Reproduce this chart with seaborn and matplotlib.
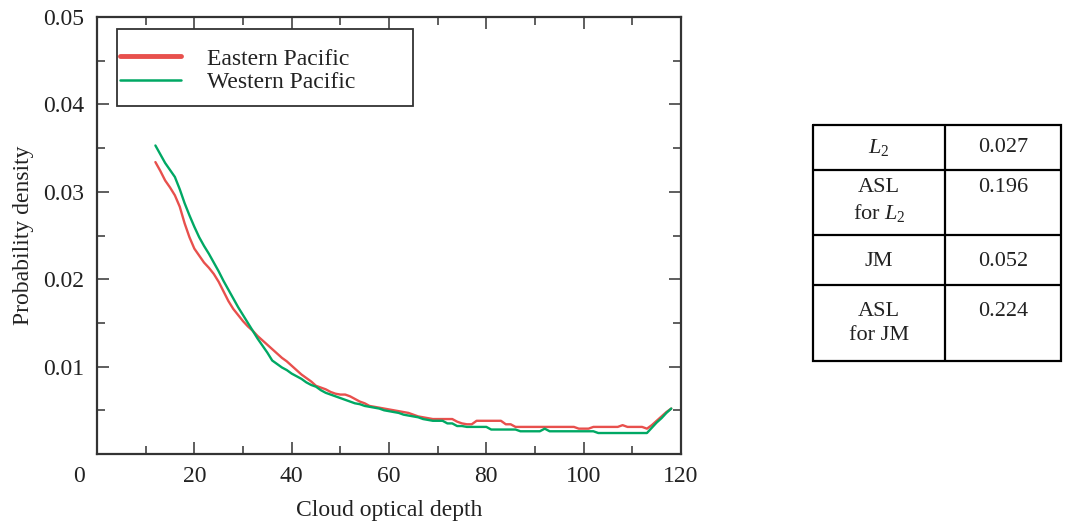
"""
Cloud optical depth PDF, Eastern vs Western Pacific, plus a small stats table.
"""

import matplotlib
matplotlib.use("Agg")
import numpy as np
import pandas as pd
import matplotlib.pyplot as plt
import matplotlib.transforms as mtransforms
from matplotlib.patches import Rectangle
from matplotlib.ticker import MultipleLocator
import seaborn as sns

# cloud optical depth, one sample per unit
DEPTH = list(range(12, 119))

# probability density (x = 12 ... 118)
EASTERN = [
    .0334, .0324, .0313, .0305, .0296, .0283, .0264, .0248, .0235, .0227,
    .0219, .0213, .0206, .0197, .0186, .0175, .0166, .0159, .0152, .0146,
    .0141, .0135, .0130, .0125, .0120, .0115, .0110, .0106, .0101, .0096,
    .0091, .0087, .0083, .0078, .0076, .0074, .0071, .0069, .0068, .0068,
    .0066, .0063, .0060, .0058, .0055, .0054, .0053, .0052, .0051, .0050,
    .0049, .0048, .0047, .0045, .0043, .0042, .0041, .0040, .0040, .0040,
    .0040, .0040, .0037, .0035, .0034, .0034, .0038, .0038, .0038, .0038,
    .0038, .0038, .0034, .0034, .0031, .0031, .0031, .0031, .0031, .0031,
    .0031, .0031, .0031, .0031, .0031, .0031, .0031, .0029, .0029, .0029,
    .0031, .0031, .0031, .0031, .0031, .0031, .0033, .0031, .0031, .0031,
    .0031, .0029, .0033, .0038, .0043, .0048, .0052,
]
WESTERN = [
    .0353, .0343, .0333, .0325, .0317, .0303, .0287, .0273, .0260, .0248,
    .0238, .0229, .0219, .0209, .0198, .0188, .0178, .0168, .0159, .0150,
    .0141, .0132, .0124, .0116, .0107, .0103, .0099, .0096, .0092, .0089,
    .0086, .0082, .0079, .0077, .0073, .0070, .0068, .0066, .0064, .0062,
    .0060, .0058, .0057, .0055, .0054, .0053, .0052, .0050, .0049, .0048,
    .0047, .0045, .0044, .0043, .0042, .0040, .0039, .0038, .0038, .0038,
    .0035, .0035, .0032, .0032, .0031, .0031, .0031, .0031, .0031, .0028,
    .0028, .0028, .0028, .0028, .0028, .0026, .0026, .0026, .0026, .0026,
    .0029, .0026, .0026, .0026, .0026, .0026, .0026, .0026, .0026, .0026,
    .0026, .0024, .0024, .0024, .0024, .0024, .0024, .0024, .0024, .0024,
    .0024, .0024, .0030, .0036, .0041, .0047, .0052,
]

SERIES = ["Eastern Pacific", "Western Pacific"]
COLORS = ["#E8504D", "#00A864"]

X_TICKS = [0, 20, 40, 60, 80, 100, 120]
X_TICKLABELS = ["0", "20", "40", "60", "80", "100", "120"]
Y_TICKS = [0, 0.01, 0.02, 0.03, 0.04, 0.05]
Y_TICKLABELS = ["", "0.01", "0.02", "0.03", "0.04", "0.05"]

TABLE_NAMES = ["$L_2$", "ASL\nfor $L_2$", "JM", "ASL\nfor JM"]
TABLE_VALUES = ["0.027", "0.196", "0.052", "0.224"]

W, H = 1066, 523
AX_L, AX_T, AX_W, AX_H = 97, 17, 584, 437   # axes box in pixels
FS = 17
INK = "#333333"


def draw_table(fig):
    # table box in figure pixels: x 813..1061, y 125..361
    tx = fig.add_axes([813 / W, 1 - 361 / H, 248 / W, 236 / H])
    tx.set_xlim(0, 248)
    tx.set_ylim(236, 0)
    tx.axis("off")

    row_edges = [0, 45, 110, 160, 236]
    first_line_y = [23, 63, 136, 186]
    col_split = 132
    line_gap = 25

    lw = 1.6
    tx.plot([0, 248, 248, 0, 0], [0, 0, 236, 236, 0], color="black", lw=lw,
            clip_on=False, solid_joinstyle="miter")
    tx.plot([col_split, col_split], [0, 236], color="black", lw=lw)
    for y in row_edges[1:-1]:
        tx.plot([0, 248], [y, y], color="black", lw=lw)

    for name, val, y0 in zip(TABLE_NAMES, TABLE_VALUES, first_line_y):
        for k, line in enumerate(name.split("\n")):
            tx.text(col_split / 2, y0 + k * line_gap, line, ha="center",
                    va="center", fontsize=16, color="#222222")
        tx.text((col_split + 248) / 2, y0, val, ha="center", va="center",
                fontsize=16, color="#222222")


def main():
    sns.set_style("ticks")
    plt.rcParams["font.family"] = ["Liberation Serif", "DejaVu Serif"]
    plt.rcParams["mathtext.fontset"] = "custom"
    plt.rcParams["mathtext.rm"] = "Liberation Serif"
    plt.rcParams["mathtext.it"] = "Liberation Serif:italic"

    df = pd.DataFrame({
        "depth": DEPTH * 2,
        "density": EASTERN + WESTERN,
        "region": [SERIES[0]] * len(DEPTH) + [SERIES[1]] * len(DEPTH),
    })

    fig = plt.figure(figsize=(W / 100, H / 100), dpi=100)
    ax = fig.add_axes([AX_L / W, 1 - (AX_T + AX_H) / H, AX_W / W, AX_H / H])

    sns.lineplot(data=df, x="depth", y="density", hue="region",
                 hue_order=SERIES, palette=COLORS, linewidth=1.7, ax=ax)

    ax.set_xlim(0, 120)
    ax.set_ylim(0, 0.05)
    ax.set_xticks(X_TICKS)
    ax.set_xticklabels(X_TICKLABELS)
    ax.set_yticks(Y_TICKS)
    ax.set_yticklabels(Y_TICKLABELS)
    ax.xaxis.set_minor_locator(MultipleLocator(10))
    ax.yaxis.set_minor_locator(MultipleLocator(0.005))

    ax.tick_params(which="both", direction="in", top=True, right=True,
                   color=INK, width=1.1, labelsize=FS, labelcolor="#222222")
    ax.tick_params(which="major", length=8.5, pad=9)
    ax.tick_params(which="minor", length=5.5)
    for sp in ax.spines.values():
        sp.set_linewidth(1.6)
        sp.set_color(INK)

    # the "0" at the origin sits a bit to the left of the axis corner
    lbl0 = ax.get_xticklabels()[0]
    lbl0.set_transform(lbl0.get_transform() +
                       mtransforms.ScaledTranslation(-0.18, 0, fig.dpi_scale_trans))

    ax.set_xlabel("Cloud optical depth", fontsize=FS, labelpad=9, color="#222222")
    ax.set_ylabel("Probability density", fontsize=FS, labelpad=7, color="#222222")

    # legend box drawn by hand (x 117..413, y 29..106 px), entries placed inside
    ax.add_patch(Rectangle(((117 - AX_L) / AX_W, 1 - (106 - AX_T) / AX_H),
                           296 / AX_W, 77 / AX_H, transform=ax.transAxes,
                           facecolor="white", edgecolor=INK, lw=1.3, zorder=4))
    handles, labels = ax.get_legend_handles_labels()
    leg = ax.legend(handles, labels, loc="upper left",
                    bbox_to_anchor=((120 - AX_L) / AX_W, 1 - (48 - AX_T) / AX_H),
                    borderaxespad=0, borderpad=0, fontsize=FS, frameon=False,
                    handlelength=2.6, handletextpad=1.1, labelspacing=0.1)
    leg.set_zorder(5)
    leg_lines = leg.get_lines()
    leg_lines[0].set_linewidth(3.5)
    leg_lines[1].set_linewidth(1.8)
    for t in leg.get_texts():
        t.set_color("#222222")

    draw_table(fig)

    fig.savefig("out.png", dpi=100)
    plt.close(fig)


if __name__ == "__main__":
    main()
